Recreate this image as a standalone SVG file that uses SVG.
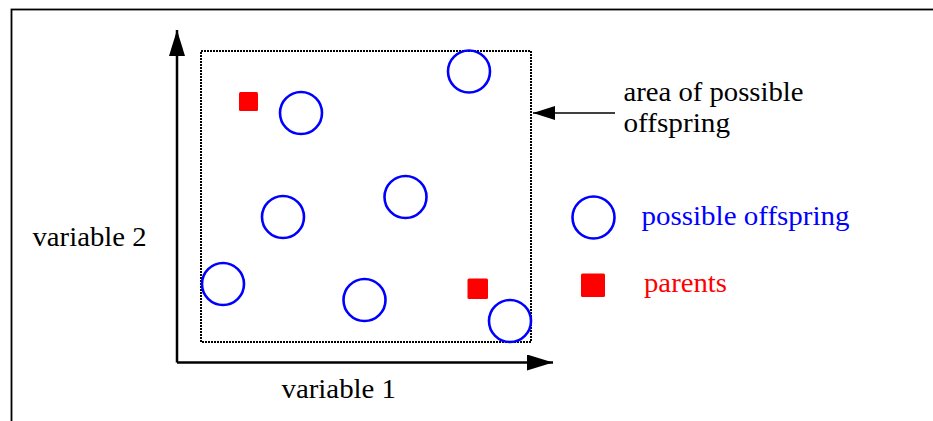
<svg xmlns="http://www.w3.org/2000/svg" width="933" height="421" viewBox="0 0 933 421">
<style>
  .t { font-family: "Liberation Serif", "Times New Roman", serif; font-size: 28px; }
  .off { fill: none; stroke: #0000ff; stroke-width: 2.6; }
  .par { fill: #ff0000; }
  .ax { stroke: #000; stroke-width: 2.5; fill: none; }
</style>
<defs>
  <marker id="ah" viewBox="0 0 26 16" refX="26" refY="8" markerWidth="26" markerHeight="16" markerUnits="userSpaceOnUse" orient="auto">
    <path d="M0,0 L26,8 L0,16 Z" fill="#000"/>
  </marker>
  <marker id="ah2" viewBox="0 0 22 14" refX="22" refY="7" markerWidth="22" markerHeight="14" markerUnits="userSpaceOnUse" orient="auto">
    <path d="M0,0 L22,7 L0,14 Z" fill="#000"/>
  </marker>
</defs>
<rect width="933" height="421" fill="#fff"/>
<rect id="frame" x="11.5" y="9.5" width="940" height="430" fill="none" stroke="#000" stroke-width="1.8"/>
<g id="area">
  <rect x="201" y="51" width="330" height="291" fill="none" stroke="#000" stroke-width="2" stroke-dasharray="2,1"/>
</g>
<g id="connectors">
  <line class="ax" x1="177" y1="362.5" x2="177" y2="30" marker-end="url(#ah)"/>
  <line class="ax" x1="177" y1="362.5" x2="553" y2="362.5" marker-end="url(#ah)"/>
  <line x1="615" y1="113" x2="533" y2="113" stroke="#000" stroke-width="1.5" marker-end="url(#ah2)"/>
</g>
<g id="offspring">
  <circle class="off" cx="301" cy="113" r="21"/>
  <circle class="off" cx="469" cy="71.5" r="21"/>
  <circle class="off" cx="283" cy="217" r="21"/>
  <circle class="off" cx="405.5" cy="197" r="21"/>
  <circle class="off" cx="223" cy="284" r="21"/>
  <circle class="off" cx="364.5" cy="300" r="21"/>
  <circle class="off" cx="510" cy="321" r="21"/>
</g>
<g id="parents">
  <rect class="par" x="239" y="92" width="19" height="19" rx="1.5"/>
  <rect class="par" x="467.5" y="278.5" width="20.5" height="20.5" rx="1.5"/>
</g>
<g id="legend">
  <circle class="off" cx="593.5" cy="217.5" r="21"/>
  <text class="t" x="641.5" y="224.5" fill="#0000ff" textLength="208" lengthAdjust="spacingAndGlyphs">possible offspring</text>
  <rect class="par" x="581" y="273.5" width="24" height="23.5" rx="1.5"/>
  <text class="t" x="644" y="292" fill="#ff0000" textLength="83" lengthAdjust="spacingAndGlyphs">parents</text>
</g>
<g id="labels">
  <text class="t" x="281.5" y="397.5" textLength="114.5" lengthAdjust="spacingAndGlyphs">variable 1</text>
  <text class="t" x="32.5" y="246" textLength="114" lengthAdjust="spacingAndGlyphs">variable 2</text>
  <text class="t" x="623.5" y="101" textLength="180" lengthAdjust="spacingAndGlyphs">area of possible</text>
  <text class="t" x="623.5" y="131.5" textLength="106.5" lengthAdjust="spacingAndGlyphs">offspring</text>
</g>
</svg>
